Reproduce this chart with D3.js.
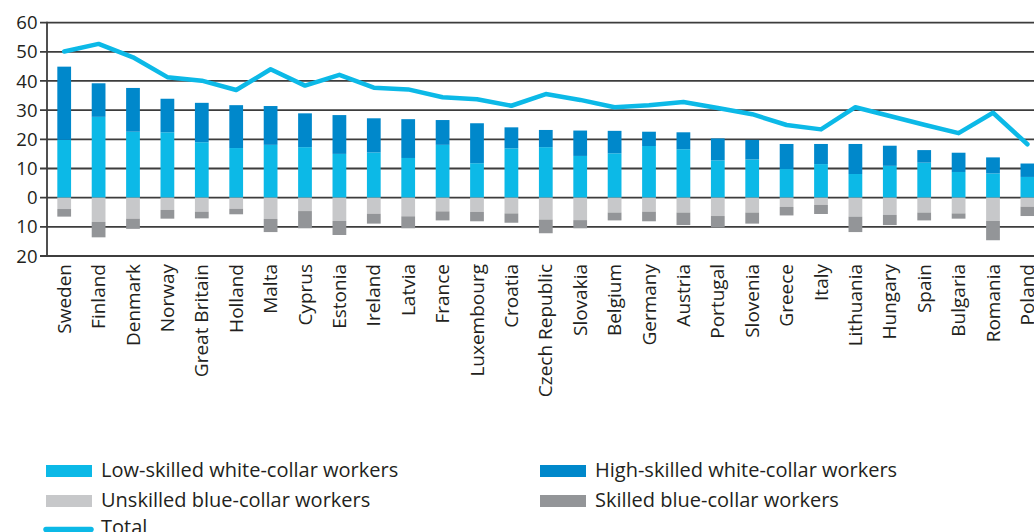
<!DOCTYPE html>
<html>
<head>
<meta charset="utf-8">
<script src="https://cdn.jsdelivr.net/npm/d3@7/dist/d3.min.js"></script>
<style>
  html, body { margin: 0; padding: 0; background: #fff; }
  svg { display: block; font-family: "Open Sans", "Noto Sans", sans-serif; }
</style>
</head>
<body>
<svg id="chart" width="1034" height="532"></svg>
<script>
// Occupational composition by country (percent); blue-collar groups plotted below zero
const countries = ["Sweden", "Finland", "Denmark", "Norway", "Great Britain", "Holland", "Malta",
  "Cyprus", "Estonia", "Ireland", "Latvia", "France", "Luxembourg", "Croatia", "Czech Republic",
  "Slovakia", "Belgium", "Germany", "Austria", "Portugal", "Slovenia", "Greece", "Italy",
  "Lithuania", "Hungary", "Spain", "Bulgaria", "Romania", "Poland"];

const lowSkilledWhite  = [19.8, 27.7, 22.6, 22.4, 19.0, 17.0, 18.1, 17.3, 15.0, 15.5, 13.6, 18.1, 11.8, 16.9, 17.3,
  14.3, 15.2, 17.7, 16.6, 12.8, 13.1, 9.8, 11.5, 8.1, 10.9, 12.0, 8.8, 8.3, 7.1];
const highSkilledWhite = [25.1, 11.5, 15.0, 11.5, 13.5, 14.7, 13.3, 11.6, 13.3, 11.7, 13.3, 8.5, 13.7, 7.2, 5.9,
  8.7, 7.7, 4.9, 5.8, 7.5, 6.7, 8.6, 6.9, 10.3, 6.9, 4.3, 6.6, 5.5, 4.6];
const unskilledBlue    = [3.9, 8.3, 7.2, 4.2, 4.8, 3.8, 7.3, 4.6, 8.0, 5.5, 6.4, 4.7, 4.9, 5.4, 7.5,
  7.7, 5.1, 4.8, 5.1, 6.3, 5.1, 3.2, 2.5, 6.5, 5.9, 5.1, 5.4, 8.0, 3.1];
const skilledBlue      = [2.6, 5.3, 3.5, 3.0, 2.3, 1.9, 4.5, 5.9, 4.8, 3.4, 4.1, 3.1, 3.2, 3.2, 4.7,
  2.8, 2.7, 3.3, 4.3, 3.9, 3.8, 2.9, 3.1, 5.3, 3.5, 2.7, 1.8, 6.6, 3.2];
const total            = [50.1, 52.7, 48.1, 41.3, 40.1, 36.9, 44.0, 38.4, 42.1, 37.7, 37.1, 34.4, 33.7, 31.5, 35.5,
  33.5, 31.0, 31.7, 32.8, 30.7, 28.6, 24.9, 23.4, 31.0, 28.0, 25.0, 22.1, 29.1, 18.3];

const yTicks = [-20, -10, 0, 10, 20, 30, 40, 50, 60];

const seriesNames = ["Low-skilled white-collar workers", "High-skilled white-collar workers",
  "Unskilled blue-collar workers", "Skilled blue-collar workers", "Total"];

const colors = {
  low: "#0cb9e7",
  high: "#0088cb",
  unskilled: "#c7c8ca",
  skilled: "#939598",
  total: "#0cb9e7",
  grid: "#3d3d3d",
  text: "#231f20"
};

const svg = d3.select("#chart");

const x = d3.scaleBand().domain(countries).range([47, 1044.6]).padding(0);
const y = d3.scaleLinear().domain([-20, 60]).range([256, 22.6]);
const barW = x.bandwidth() * 0.4;
const cx = c => x(c) + x.bandwidth() / 2;

// gridlines with short ticks left of the axis
const grid = svg.append("g");
grid.selectAll("line").data(yTicks).join("line")
  .attr("x1", 40).attr("x2", 1034)
  .attr("y1", d => y(d)).attr("y2", d => y(d))
  .attr("stroke", colors.grid).attr("stroke-width", 1.8);

// vertical axis
svg.append("line")
  .attr("x1", 47).attr("x2", 47)
  .attr("y1", y(60) - 0.9).attr("y2", y(-20) + 0.9)
  .attr("stroke", colors.grid).attr("stroke-width", 1.8);

// tick labels (negative side shown as magnitudes)
svg.append("g").selectAll("text").data(yTicks).join("text")
  .attr("x", 37.5).attr("y", d => y(d))
  .attr("dy", "0.36em")
  .attr("text-anchor", "end")
  .attr("font-size", 18.5)
  .attr("fill", colors.text)
  .text(d => Math.abs(d));

// stacked segments
const rows = countries.map((c, i) => ({
  c,
  segs: [
    { y0: 0, y1: lowSkilledWhite[i], col: colors.low },
    { y0: lowSkilledWhite[i], y1: lowSkilledWhite[i] + highSkilledWhite[i], col: colors.high },
    { y0: 0, y1: -unskilledBlue[i], col: colors.unskilled },
    { y0: -unskilledBlue[i], y1: -unskilledBlue[i] - skilledBlue[i], col: colors.skilled }
  ]
}));

svg.append("g").selectAll("g").data(rows).join("g")
  .selectAll("rect").data(d => d.segs.map(s => ({ ...s, c: d.c }))).join("rect")
  .attr("x", d => cx(d.c) - barW / 2)
  .attr("width", barW)
  .attr("y", d => y(Math.max(d.y0, d.y1)))
  .attr("height", d => Math.abs(y(d.y0) - y(d.y1)))
  .attr("fill", d => d.col);

// total line
const line = d3.line().x((d, i) => cx(countries[i])).y(d => y(d));
svg.append("path")
  .datum(total)
  .attr("d", line)
  .attr("fill", "none")
  .attr("stroke", colors.total)
  .attr("stroke-width", 4.5)
  .attr("stroke-linejoin", "round")
  .attr("stroke-linecap", "round");

// category labels, rotated
svg.append("g").selectAll("text").data(countries).join("text")
  .attr("transform", d => `translate(${cx(d)},264) rotate(-90)`)
  .attr("dy", "0.35em")
  .attr("text-anchor", "end")
  .attr("font-size", 19)
  .attr("fill", colors.text)
  .text(d => d);

// legend
const legendItems = [
  { name: seriesNames[0], col: colors.low, x: 46, y: 470 },
  { name: seriesNames[1], col: colors.high, x: 540, y: 470 },
  { name: seriesNames[2], col: colors.unskilled, x: 46, y: 500 },
  { name: seriesNames[3], col: colors.skilled, x: 540, y: 500 }
];
const lg = svg.append("g");
lg.selectAll("rect").data(legendItems).join("rect")
  .attr("x", d => d.x).attr("y", d => d.y - 5)
  .attr("width", 46).attr("height", 12)
  .attr("fill", d => d.col);
lg.selectAll("text").data(legendItems).join("text")
  .attr("x", d => d.x + 55).attr("y", d => d.y)
  .attr("dy", "0.35em")
  .attr("font-size", 20)
  .attr("fill", colors.text)
  .text(d => d.name);
lg.append("line")
  .attr("x1", 46).attr("x2", 91)
  .attr("y1", 529.5).attr("y2", 529.5)
  .attr("stroke", colors.total).attr("stroke-width", 5.5)
  .attr("stroke-linecap", "round");
lg.append("text")
  .attr("x", 101).attr("y", 527)
  .attr("dy", "0.35em")
  .attr("font-size", 20)
  .attr("fill", colors.text)
  .text(seriesNames[4]);
</script>
</body>
</html>
